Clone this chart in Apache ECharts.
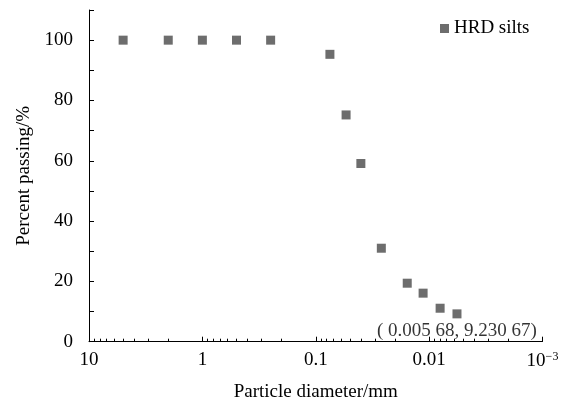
<!DOCTYPE html>
<html>
<head>
<meta charset="utf-8">
<script src="https://cdn.jsdelivr.net/npm/echarts@6/dist/echarts.min.js"></script>
<style>
  html, body { margin: 0; padding: 0; background: #fff; }
  #chart { width: 563px; height: 408px; }
</style>
</head>
<body>
<div id="chart"></div>
<script>
// particle size distribution
const diameters = [5, 2, 1, 0.5, 0.25, 0.075, 0.054, 0.04, 0.0264, 0.0156, 0.0113, 0.008, 0.00568]
const passing = [100, 100, 100, 100, 100, 95.3, 75.2, 59.1, 31.0, 19.4, 16.1, 11.1, 9.23067]
const seriesName = 'HRD silts'
const noteText = '( 0.005 68, 9.230 67)'
const minorTicks = [2, 3, 4, 5, 6, 7, 8, 9].flatMap(m => [10, 1, 0.1, 0.01].map(d => +(m * d / 10).toPrecision(3)))

const font = 'Liberation Serif, Times New Roman, serif'
const chart = echarts.init(document.getElementById('chart'))

const points = diameters.map((d, i) => {
  const p = { value: [d, passing[i]] }
  if (i === diameters.length - 1) {
    p.label = {
      show: true,
      position: 'bottom',
      distance: 3,
      formatter: noteText,
      color: '#000',
      fontFamily: font,
      fontSize: 19
    }
  }
  return p
})

const baseX = {
  type: 'log',
  logBase: 10,
  min: 0.001,
  max: 10,
  inverse: true,
  position: 'bottom',
  splitLine: { show: false }
}

chart.setOption({
  animation: false,
  grid: { left: 89, right: 20.5, top: 10, bottom: 66.3 },
  legend: {
    left: 440,
    top: 19,
    padding: 0,
    itemWidth: 9,
    itemHeight: 9,
    itemGap: 10,
    icon: 'rect',
    textStyle: { fontFamily: font, fontSize: 19, color: '#000' },
    data: [seriesName]
  },
  xAxis: [
    Object.assign({}, baseX, {
      name: 'Particle diameter/mm',
      nameLocation: 'middle',
      nameGap: 41,
      nameTextStyle: { fontFamily: font, fontSize: 19, color: '#000' },
      axisLine: { lineStyle: { color: '#000', width: 1 } },
      axisTick: { inside: true, length: 5, lineStyle: { color: '#000' } },
      axisLabel: {
        margin: 9,
        color: '#000',
        fontFamily: font,
        fontSize: 19,
        formatter: v => {
          const e = Math.round(Math.log10(v))
          if (e === -3) return '{b|10}{s|−3}'
          return e >= 0 ? String(Math.pow(10, e)) : Math.pow(10, e).toFixed(-e)
        },
        rich: {
          b: { fontFamily: font, fontSize: 19, color: '#000' },
          s: { fontFamily: font, fontSize: 12, color: '#000', padding: [0, 0, 9, 0] }
        }
      }
    }),
    Object.assign({}, baseX, {
      axisLine: { show: false },
      axisLabel: { show: false },
      axisTick: { inside: true, length: 3, customValues: minorTicks, lineStyle: { color: '#000' } }
    })
  ],
  yAxis: {
    type: 'value',
    min: 0,
    max: 110,
    interval: 10,
    name: 'Percent passing/%',
    nameLocation: 'middle',
    nameGap: 55,
    nameTextStyle: { fontFamily: font, fontSize: 19, color: '#000' },
    splitLine: { show: false },
    axisLine: { show: true, lineStyle: { color: '#000', width: 1 } },
    axisTick: { show: true, inside: true, length: 5, lineStyle: { color: '#000' } },
    axisLabel: {
      margin: 16,
      color: '#000',
      fontFamily: font,
      fontSize: 19,
      formatter: v => (v % 20 === 0 && v <= 100 ? String(v) : '')
    }
  },
  series: [
    {
      name: seriesName,
      type: 'scatter',
      symbol: 'rect',
      symbolSize: 9,
      itemStyle: { color: '#484848' },
      data: points
    }
  ]
})
</script>
</body>
</html>
